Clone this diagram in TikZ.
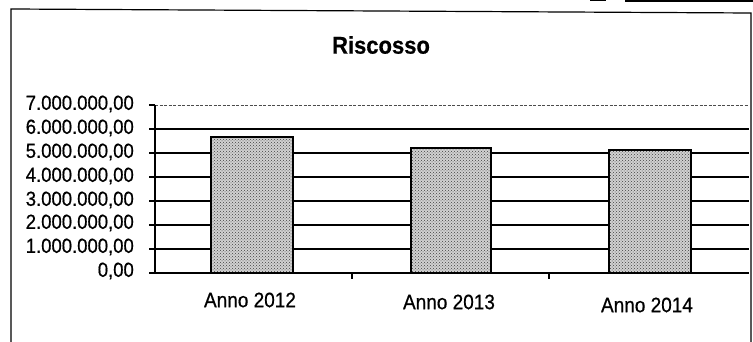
\documentclass[tikz,border=0pt]{standalone}
\usepackage{fontspec}
\usepackage{graphicx}
\setmainfont{Liberation Sans}
\newfontfamily\lblfont[FakeBold=0.6]{Liberation Sans}
\newfontfamily\ttlfont[FakeBold=0.6]{Liberation Sans Bold}
\newcommand{\tallx}[1]{\scalebox{1}[1.1]{#1}}
\usetikzlibrary{patterns}
\begin{document}
\begin{tikzpicture}[x=1pt,y=-1pt,
  frame/.style={line width=1.2pt},
  grid/.style={line width=1.1pt},
  topgrid/.style={line width=0.8pt,dash pattern=on 3pt off 1.5pt,black!70},
  bar/.style={fill=black!18},
  barpat/.style={pattern=crosshatch dots,pattern color=black!75},
  ylab/.style={anchor=east,inner sep=0pt,font=\lblfont\fontsize{18.5}{18}\selectfont},
  xlab/.style={inner sep=0pt,font=\lblfont\fontsize{19}{19}\selectfont},
  ttl/.style={inner sep=0pt,font=\ttlfont\fontsize{22}{22}\selectfont}]
\useasboundingbox (0,0) rectangle (753,342);
% frame
\draw[frame] (11,342) -- (11,9) -- (751,13) -- (751,342);
\draw[line width=1.5pt] (625,1) -- (753,1);
\draw[line width=1pt] (590,1) -- (606,1);
% title
\node[ttl] (title) at (381,45) {\tallx{Riscosso}};
% axes and grid
\coordinate (o) at (155,273);
\coordinate (t) at (155,105);
\draw[topgrid] (155,105) -- (749,105);
\foreach \i in {1,...,6}{
  \draw[grid] (155,{273-24*\i}) -- (749,{273-24*\i});
}
\draw[grid] (t) -- (o);
\draw[grid] (o) -- (749,273);
\foreach \i in {0,...,7}{
  \draw[grid] (149,{273-24*\i}) -- (155,{273-24*\i});
}
\foreach \xx in {352,549}{
  \draw[grid] (\xx,273) -- (\xx,279);
}
% bars
\foreach \a/\b/\top in {211/293/137,411/491/148,609/691/150}{
  \fill[white] (\a,\top) rectangle (\b,273);
  \fill[bar] (\a,\top) rectangle (\b,273);
  \fill[barpat] (\a,\top) rectangle (\b,273);
  \draw[line width=2.2pt] (\a,\top) rectangle (\b,273);
}
% y labels
\node[ylab] (y7) at (134,104) {\tallx{7.000.000,00}};
\node[ylab] (y6) at (134,128) {\tallx{6.000.000,00}};
\node[ylab] (y5) at (134,152) {\tallx{5.000.000,00}};
\node[ylab] (y4) at (134,176) {\tallx{4.000.000,00}};
\node[ylab] (y3) at (134,200) {\tallx{3.000.000,00}};
\node[ylab] (y2) at (134,223) {\tallx{2.000.000,00}};
\node[ylab] (y1) at (134,247) {\tallx{1.000.000,00}};
\node[ylab] (y0) at (134,271) {\tallx{0,00}};
% x labels
\node[xlab] (x1) at (250,300) {\tallx{Anno 2012}};
\node[xlab] (x2) at (449,302) {\tallx{Anno 2013}};
\node[xlab] (x3) at (647,305) {\tallx{Anno 2014}};
\end{tikzpicture}
\end{document}
